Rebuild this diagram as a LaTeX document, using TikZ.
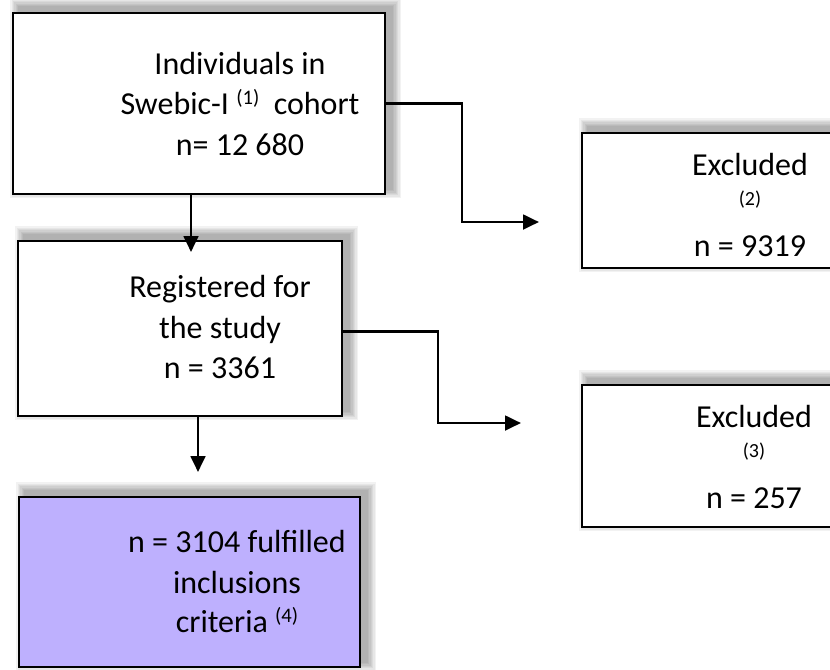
\documentclass[tikz,border=0pt]{standalone}
\usepackage{fontspec}
\setmainfont{Carlito}
\usetikzlibrary{arrows.meta,fit,backgrounds}
\definecolor{lav}{RGB}{190,176,254}
\tikzset{
  box/.style={draw=black, line width=2pt, fill=white, inner sep=0pt},
  pbox/.style={box, fill=lav},
  txt/.style={anchor=base, inner sep=0pt, font=\fontsize{24}{29}\selectfont},
  sml/.style={anchor=base, inner sep=0pt, font=\fontsize{15}{17}\selectfont},
  arr/.style={line width=2.1pt, -{Triangle[length=12pt,width=11pt]}}
}
\newcommand{\supref}[1]{\raisebox{7pt}{\fontsize{15.5}{17}\selectfont #1}}
\begin{document}
\begin{tikzpicture}[x=0.75pt,y=-0.75pt]
\useasboundingbox (0,0) rectangle (830,669);
\begin{scope}
\clip (0,0) rectangle (830,669);
% boxes
\node[box,  fit={(13,13) (385,194)}]  (b1) {};
\node[box,  fit={(18,241) (342,416)}] (b2) {};
\node[pbox, fit={(19,497) (360,667)}] (b3) {};
\node[box,  fit={(582,133) (880,268)}] (e1) {};
\node[box,  fit={(582,385) (880,527)}] (e2) {};
% shadows (offset up and to the right, soft)
\begin{scope}[on background layer]
\clip (0,0) rectangle (830,669);
\foreach \b in {b1,b2,b3,e1,e2}{
  \foreach \k in {0,...,6}{
    \fill[black, opacity=0.05]
      ([xshift={(5-\k)*1pt}, yshift={(4-\k)*1pt}]\b.south west) rectangle
      ([xshift={(5+\k)*1pt}, yshift={(4+\k)*1pt}]\b.north east);
  }
}
\end{scope}
% texts
\node[txt] (t1a) at (240,74)  {Individuals in};
\node[txt] (t1b) at (240,114) {Swebic-I \supref{(1)}\ \ cohort};
\node[txt] (t1c) at (240,155) {n= 12 680};
\node[txt] (t2a) at (220,297) {Registered for};
\node[txt] (t2b) at (220,338) {the study};
\node[txt] (t2c) at (220,378) {n = 3361};
\node[txt] (t3a) at (237,552) {n = 3104 fulfilled};
\node[txt] (t3b) at (237,593) {inclusions};
\node[txt] (t3c) at (237,632) {criteria \supref{(4)}};
\node[txt] (e1a) at (750,175) {Excluded};
\node[sml] (e1b) at (750,205) {(2)};
\node[txt] (e1c) at (750,256) {n = 9319};
\node[txt] (e2a) at (754,427) {Excluded};
\node[sml] (e2b) at (754,457) {(3)};
\node[txt] (e2c) at (754,508) {n = 257};
% connectors
\coordinate (c1) at (191,252);
\coordinate (c2) at (198,472);
\coordinate (k1) at (462,222);
\coordinate (c3) at (539,222);
\coordinate (k2) at (438,423);
\coordinate (c4) at (521,423);
\draw[arr] (b1.south -| c1) -- (c1);
\draw[arr] (b2.south -| c2) -- (c2);
\draw[arr] (b1.east) -| (k1) -- (c3);
\draw[arr] ([yshift=-2.5pt]b2.east) -| (k2) -- (c4);
\end{scope}
\end{tikzpicture}
\end{document}
